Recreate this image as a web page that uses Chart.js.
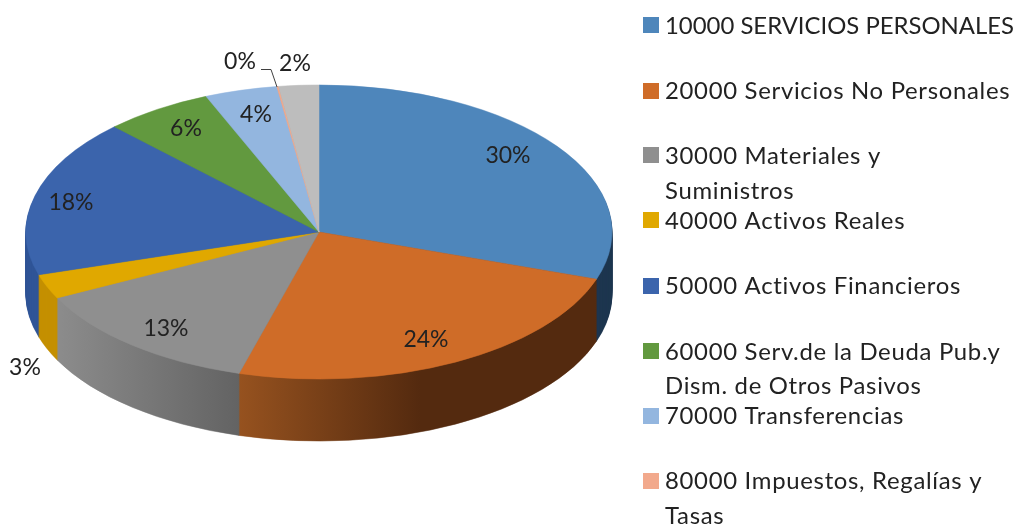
<!DOCTYPE html>
<html><head><meta charset="utf-8">
<style>html,body{margin:0;padding:0;background:#fff}canvas{display:block}</style>
<script src="https://cdn.jsdelivr.net/npm/chart.js@4"></script>
</head><body>
<canvas id="c" width="1016" height="524"></canvas>
<script>
const categories = ["10000 SERVICIOS PERSONALES","20000 Servicios No Personales","30000 Materiales y Suministros","40000 Activos Reales","50000 Activos Financieros","60000 Serv.de la Deuda Pub.y Dism. de Otros Pasivos","70000 Transferencias","80000 Impuestos, Regalías y Tasas","90000"];
const values = [30.2,24.2,13.2,2.7,17.4,6.0,4.0,0.1,2.2];
const percentLabels = ["30%","24%","13%","3%","18%","6%","4%","0%","2%"];
const topColors = ["#4e86bb","#cf6c28","#8f8f8f","#e0a800","#3b64ac","#62993f","#93b6df","#f2a98c","#bdbdbd"];
const sideLeft = ["#1d364f","#96521f","#8c8c8c","#c49000","#2f5597","#4a7530","#6f8fb5","#c08870","#939393"];
const sideRight = ["#1d364f","#542a0f","#636363","#c49000","#2f5597","#4a7530","#6f8fb5","#c08870","#939393"];
const legendLines = [["10000 SERVICIOS PERSONALES"],["20000 Servicios No Personales"],["30000 Materiales y","Suministros"],["40000 Activos Reales"],["50000 Activos Financieros"],["60000 Serv.de la Deuda Pub.y","Dism. de Otros Pasivos"],["70000 Transferencias"],["80000 Impuestos, Regalías y","Tasas"]];

const CX=319, CY=232, R=200, RX=293, RY=147, DEPTH=62;
const FONT='23.9px Lato, "Open Sans", sans-serif', LABEL_FONT='23px Lato, "Open Sans", sans-serif', INK='#222222';
const labelAt=[[508,156],[426,340],[166,329],[25,368],[71,203],[186,129],[256,115],[240,62],[295,64]];
const legendRows=[[26],[91],[156,191],[221],[286],[352,386],[416],[481,516]];
const swatchRows=[25,91,155,220,286,351,416,481];

const pie3d={id:'pie3d',
  beforeDatasetsDraw(chart){
    const ctx=chart.ctx, arcs=chart.getDatasetMeta(0).data;
    const sx=RX/R, sy=RY/R;
    const paint=(arc,fill)=>{const s=arc.options;arc.options=Object.assign({},s,{backgroundColor:fill,borderColor:fill,borderWidth:0.5});arc.draw(ctx);arc.options=s;};
    ctx.save();
    ctx.translate(CX,CY);ctx.scale(sx,sy);ctx.translate(-CX,-CY);
    // rim: the same arcs repeated downwards, shaded left to right
    const span=[[0,0],[239,420],[57,239],[0,0],[0,0],[0,0],[0,0],[0,0],[0,0]];
    for(let d=DEPTH;d>0;d--){
      ctx.save();ctx.translate(0,d/sy);
      arcs.forEach((arc,i)=>{
        let fill=sideRight[i];
        if(span[i][1]>0){
          const g=ctx.createLinearGradient(CX+(span[i][0]-CX)/sx,0,CX+(span[i][1]-CX)/sx,0);
          g.addColorStop(0,sideLeft[i]);g.addColorStop(1,sideRight[i]);fill=g;
        }
        paint(arc,fill);
      });
      ctx.restore();
    }
    arcs.forEach((arc,i)=>paint(arc,topColors[i]));
    ctx.restore();

    // leader line for the 0% label
    ctx.save();
    ctx.strokeStyle='#404040';ctx.lineWidth=1;ctx.beginPath();
    ctx.moveTo(261,69.5);ctx.lineTo(271,69.5);ctx.lineTo(277,87);ctx.stroke();
    // percentage labels
    ctx.font=LABEL_FONT;ctx.fillStyle=INK;ctx.textAlign='center';ctx.textBaseline='middle';
    percentLabels.forEach((t,i)=>ctx.fillText(t,labelAt[i][0],labelAt[i][1]));
    // legend
    ctx.font=FONT;ctx.textAlign='left';
    legendLines.forEach((lines,i)=>{
      ctx.fillStyle=topColors[i];
      ctx.fillRect(643,swatchRows[i]-8,16,16);
      ctx.fillStyle=INK;
      ctx.letterSpacing = i===0 ? '0px' : '0.7px';
      lines.forEach((t,j)=>ctx.fillText(t,665,legendRows[i][j]));
    });
    ctx.restore();
    return false;
  }
};

new Chart(document.getElementById('c'),{
  type:'pie',
  data:{labels:categories,datasets:[{data:values,backgroundColor:topColors,borderWidth:0}]},
  options:{responsive:false,animation:false,
    layout:{padding:{left:CX-R,right:1016-CX-R,top:CY-R,bottom:524-CY-R}},
    plugins:{legend:{display:false},tooltip:{enabled:false}}},
  plugins:[pie3d]
});
</script>
</body></html>
